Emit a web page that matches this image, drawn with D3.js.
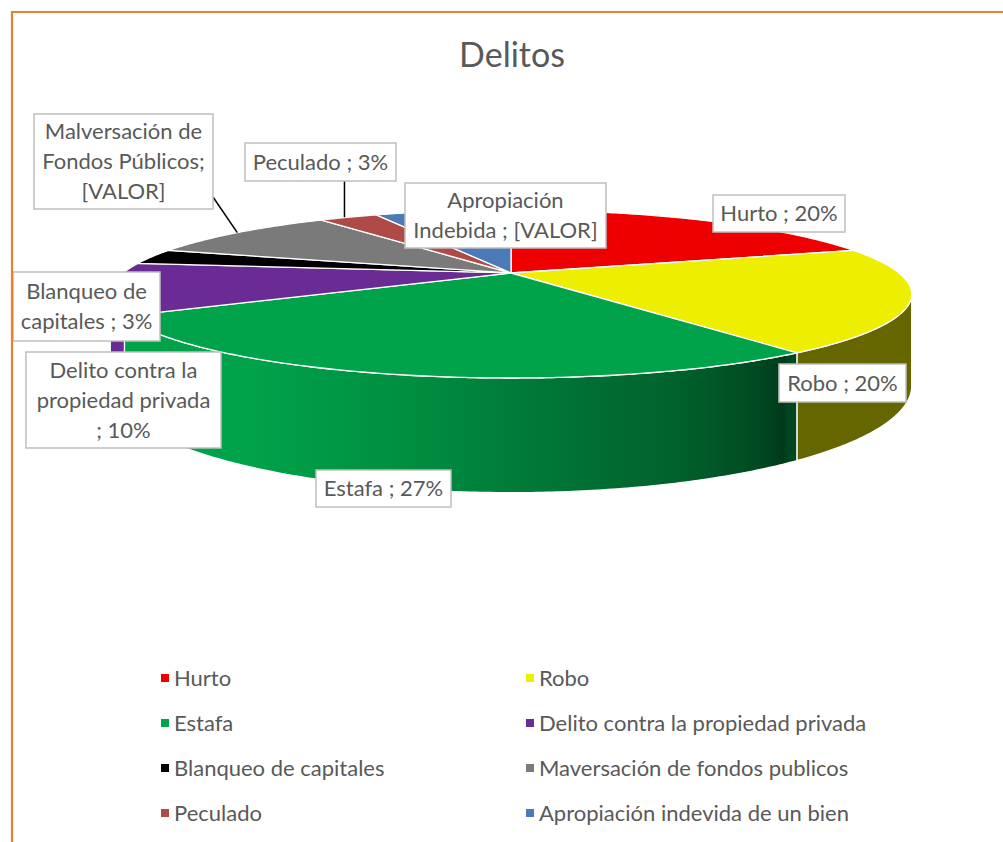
<!DOCTYPE html>
<html>
<head>
<meta charset="utf-8">
<script src="https://cdn.jsdelivr.net/npm/d3@7"></script>
<style>
  html, body { margin: 0; padding: 0; background: #ffffff; }
  svg { display: block; }
  text { font-family: Lato, "Noto Sans", sans-serif; fill: #595959; }
</style>
</head>
<body>
<svg id="chart" width="1003" height="842"></svg>
<script>
// ---------------- DATA ----------------
const title = "Delitos";
const categories = [
  "Hurto",
  "Robo",
  "Estafa",
  "Delito contra la propiedad privada",
  "Blanqueo de capitales",
  "Maversación de fondos publicos",
  "Peculado",
  "Apropiación indevida de un bien"
];
const values = [20, 20, 27, 10, 3, 10, 3, 7];
const dataLabels = [
  ["Hurto ; 20%"],
  ["Robo ; 20%"],
  ["Estafa ; 27%"],
  ["Delito contra la", "propiedad privada", "; 10%"],
  ["Blanqueo de", "capitales ; 3%"],
  ["Malversación de", "Fondos Públicos;", "[VALOR]"],
  ["Peculado ; 3%"],
  ["Apropiación", "Indebida ; [VALOR]"]
];
const sliceColors = ["#ee0000", "#eeee00", "#00a24a", "#6b2b95", "#000000", "#7a7a7a", "#b04a47", "#4a7ab8"];

// ---------------- LAYOUT ----------------
const W = 1003, H = 842;
const cx = 511, cy = 273;      // projected pie centre
const RX = 388, RY = 78.75;    // projected radii
const K = 0.25;                // perspective factor
const DEPTH = 86;              // pie thickness
const labelBoxes = [
  {x: 713, y: 195, w: 132, h: 37},
  {x: 779, y: 364, w: 127, h: 38},
  {x: 316, y: 470, w: 135, h: 37},
  {x: 26,  y: 352, w: 195, h: 96},
  {x: 13,  y: 272, w: 147, h: 69},
  {x: 34,  y: 114, w: 179, h: 95},
  {x: 245, y: 143, w: 151, h: 38},
  {x: 405, y: 183, w: 201, h: 65}
];
const leaderAnchors = {5: "right", 6: "bottom"};
const lineH = 30;
const labelFont = 22, legendFont = 22, titleFont = 34;

const svg = d3.select("#chart");

// scales mapping unit-disc coordinates to the page
const xs = d3.scaleLinear().domain([-1, 1]).range([cx - RX, cx + RX]);
const ys = d3.scaleLinear().domain([-1, 1]).range([cy + RY, cy - RY]);
function proj(theta) {
  const u = Math.sin(theta), v = Math.cos(theta), s = 1 + K * v;
  return [xs(u / s), ys(v / s), s];
}
function projBottom(theta) {
  const p = proj(theta);
  return [p[0], p[1] + DEPTH / p[2]];
}
function arcPoints(a, b, fn) {
  const n = Math.max(2, Math.ceil((b - a) / 0.01));
  return d3.range(n + 1).map(i => fn(a + (b - a) * i / n));
}

const arcs = d3.pie().sort(null).value(d => d)(values);

// ---------- shading gradients for the walls ----------
const defs = svg.append("defs");
const shadeStops = [[0, 1], [0.18, 1], [0.38, 0.87], [0.58, 0.7], [0.71, 0.6], [0.81, 0.45], [0.84, 0.36], [0.845, 0.43], [1, 0.43]];
const left = cx - RX * 1.033, right = cx + RX * 1.033;
sliceColors.forEach((c, i) => {
  const g = defs.append("linearGradient")
    .attr("id", "wall" + i)
    .attr("gradientUnits", "userSpaceOnUse")
    .attr("x1", left).attr("x2", right).attr("y1", 0).attr("y2", 0);
  shadeStops.forEach(([o, f]) => {
    g.append("stop").attr("offset", o)
      .attr("stop-color", d3.interpolateRgb("#000000", c)(f));
  });
});

// ---------- walls (front, visible part) ----------
const t1 = Math.acos(-K), t2 = 2 * Math.PI - t1;
const line = d3.line();
const wallG = svg.append("g");
arcs.forEach((d, i) => {
  const a = Math.max(d.startAngle, t1), b = Math.min(d.endAngle, t2);
  if (a >= b) return;
  const top = arcPoints(a, b, t => proj(t).slice(0, 2));
  const bot = arcPoints(a, b, projBottom).reverse();
  wallG.append("path")
    .attr("d", line(top.concat(bot)) + "Z")
    .attr("fill", `url(#wall${i})`)
    .attr("stroke", "#ffffff")
    .attr("stroke-width", 1.3)
    .attr("stroke-linejoin", "round");
});

// ---------- top faces ----------
const topG = svg.append("g");
arcs.forEach((d, i) => {
  const pts = [[cx, cy]].concat(arcPoints(d.startAngle, d.endAngle, t => proj(t).slice(0, 2)));
  topG.append("path")
    .attr("d", line(pts) + "Z")
    .attr("fill", sliceColors[i])
    .attr("stroke", "#ffffff")
    .attr("stroke-width", 1.3)
    .attr("stroke-linejoin", "round");
});

// ---------- leader lines ----------
const leadG = svg.append("g");
Object.keys(leaderAnchors).forEach(k => {
  const i = +k, d = arcs[i], box = labelBoxes[i];
  const mid = (d.startAngle + d.endAngle) / 2;
  const p = proj(mid);
  const bottom = leaderAnchors[k] === "bottom";
  const x1 = p[0] - (bottom ? 4 : 0);
  const q = bottom ? [x1, box.y + box.h] : [box.x + box.w, box.y + box.h - 12];
  leadG.append("line")
    .attr("x1", x1).attr("y1", p[1])
    .attr("x2", q[0]).attr("y2", q[1])
    .attr("stroke", "#000000").attr("stroke-width", 1.5);
});

// ---------- data labels ----------
const labG = svg.append("g");
dataLabels.forEach((lines, i) => {
  const b = labelBoxes[i];
  labG.append("rect")
    .attr("x", b.x).attr("y", b.y).attr("width", b.w).attr("height", b.h)
    .attr("fill", "#ffffff").attr("stroke", "#bfbfbf").attr("stroke-width", 1.5);
  const ccy = b.y + b.h / 2;
  lines.forEach((t, j) => {
    labG.append("text")
      .attr("x", b.x + b.w / 2)
      .attr("y", ccy + (j - (lines.length - 1) / 2) * lineH)
      .attr("dy", "0.36em")
      .attr("text-anchor", "middle")
      .attr("font-size", labelFont)
      .text(t);
  });
});

// ---------- title ----------
svg.append("text")
  .attr("x", 512).attr("y", 55).attr("dy", "0.36em")
  .attr("text-anchor", "middle")
  .attr("font-size", titleFont)
  .text(title);

// ---------- legend ----------
const legCol = d3.scaleOrdinal().domain([0, 1]).range([161, 526]);
const legRow = d3.scaleLinear().domain([0, 1]).range([678, 723]);
const legG = svg.append("g");
categories.forEach((c, i) => {
  const col = i % 2, row = Math.floor(i / 2);
  const x = legCol(col), y = legRow(row);
  legG.append("rect")
    .attr("x", x).attr("y", y - 4).attr("width", 8).attr("height", 8)
    .attr("fill", sliceColors[i]);
  legG.append("text")
    .attr("x", x + 13).attr("y", y).attr("dy", "0.36em")
    .attr("font-size", legendFont)
    .text(c);
});

// ---------- chart border ----------
svg.append("path")
  .attr("d", `M12,${H} L12,12 L${W},12`)
  .attr("fill", "none")
  .attr("stroke", "#ed7d31")
  .attr("stroke-width", 2.2);
</script>
</body>
</html>
